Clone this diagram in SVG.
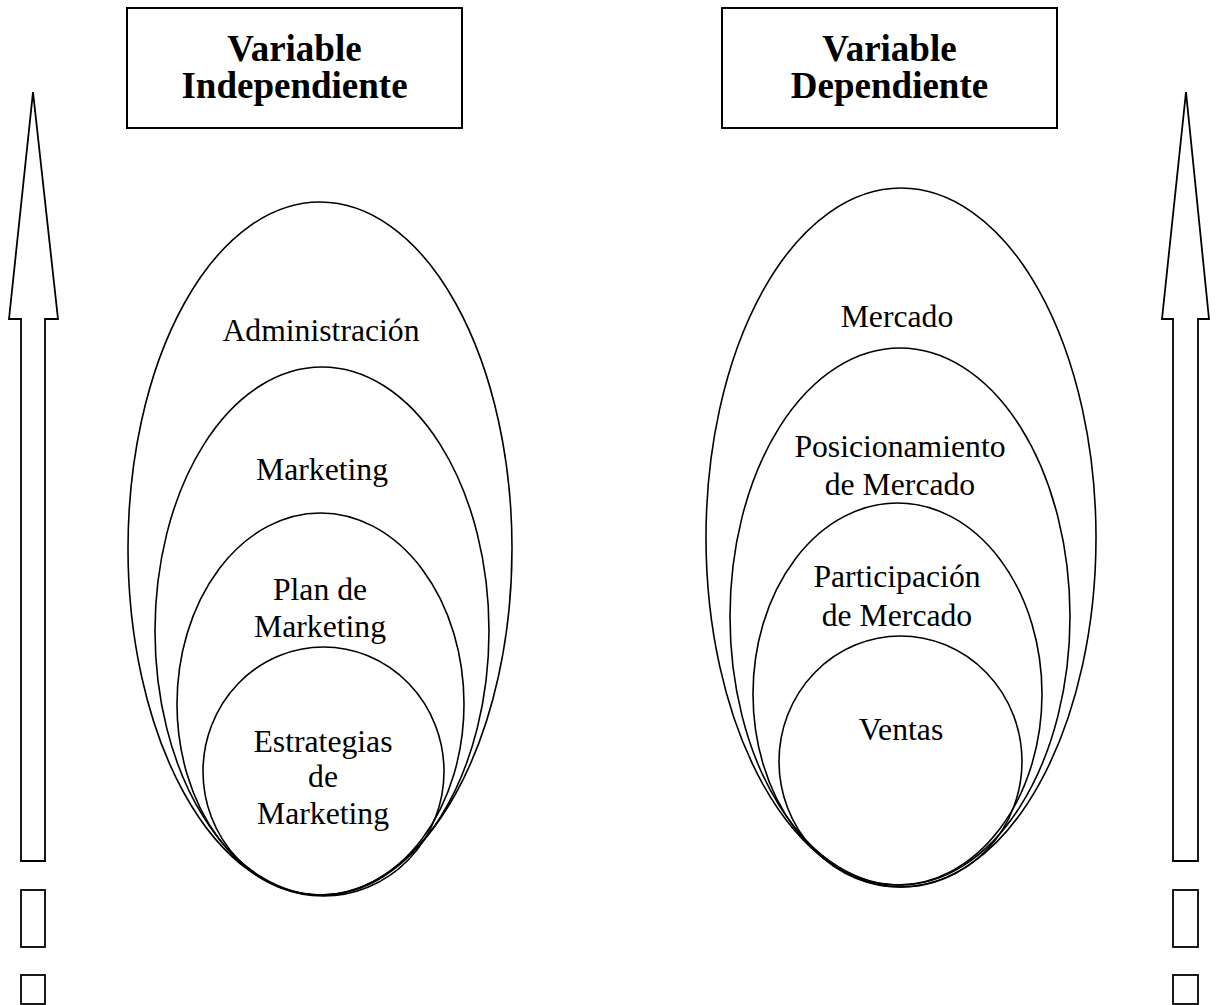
<svg xmlns="http://www.w3.org/2000/svg" width="1219" height="1005" viewBox="0 0 1219 1005">
  <style>
    .frame { fill: #fff; stroke: #000; stroke-width: 2; }
    .ring { fill: none; stroke: #000; stroke-width: 1.6; }
    .arrow { fill: #fff; stroke: #000; stroke-width: 1.8; }
    .title { font-family: "Liberation Serif", "Times New Roman", serif; font-weight: bold; font-size: 37px; text-anchor: middle; fill: #000; }
    .label { font-family: "Liberation Serif", "Times New Roman", serif; font-size: 31.7px; text-anchor: middle; fill: #000; }
  </style>
  <rect width="1219" height="1005" fill="#fff"/>

  <!-- vertical arrows at the page edges -->
  <g id="arrow-left">
    <polygon class="arrow" points="33,92 58,319 45,319 45,861 21,861 21,319 9,319"/>
    <rect class="arrow" x="21" y="890" width="24" height="57"/>
    <rect class="arrow" x="21" y="975" width="24" height="29"/>
  </g>
  <g id="arrow-right">
    <polygon class="arrow" points="1186,92 1209,319 1198,319 1198,861 1173,861 1173,319 1162,319"/>
    <rect class="arrow" x="1173" y="890" width="25" height="57"/>
    <rect class="arrow" x="1173" y="975" width="25" height="29"/>
  </g>

  <!-- headers -->
  <g id="header-independiente">
    <rect class="frame" x="127" y="8" width="335" height="120"/>
    <text class="title" x="294.5" y="61">Variable</text>
    <text class="title" x="294.5" y="98">Independiente</text>
  </g>
  <g id="header-dependiente">
    <rect class="frame" x="722" y="8" width="335" height="120"/>
    <text class="title" x="889.5" y="61">Variable</text>
    <text class="title" x="889.5" y="98">Dependiente</text>
  </g>

  <!-- independent variable: nested ellipses -->
  <g id="administracion">
    <ellipse class="ring" cx="320" cy="548.5" rx="192" ry="346.5"/>
    <text class="label" x="321" y="341">Administración</text>
  </g>
  <g id="marketing">
    <ellipse class="ring" cx="322" cy="631" rx="167" ry="264"/>
    <text class="label" x="322" y="480">Marketing</text>
  </g>
  <g id="plan-marketing">
    <ellipse class="ring" cx="320.5" cy="704" rx="143.5" ry="191"/>
    <text class="label" x="320" y="600">Plan de</text>
    <text class="label" x="320" y="637">Marketing</text>
  </g>
  <g id="estrategias">
    <ellipse class="ring" cx="323.5" cy="771.5" rx="120.5" ry="124.5"/>
    <text class="label" x="323" y="752">Estrategias</text>
    <text class="label" x="323" y="787">de</text>
    <text class="label" x="323" y="824">Marketing</text>
  </g>

  <!-- dependent variable: nested ellipses -->
  <g id="mercado">
    <ellipse class="ring" cx="901" cy="537.5" rx="195" ry="349.5"/>
    <text class="label" x="897" y="327">Mercado</text>
  </g>
  <g id="posicionamiento">
    <ellipse class="ring" cx="900" cy="616.5" rx="170" ry="268.5"/>
    <text class="label" x="900" y="457">Posicionamiento</text>
    <text class="label" x="900" y="495">de Mercado</text>
  </g>
  <g id="participacion">
    <ellipse class="ring" cx="897.5" cy="694" rx="144.5" ry="191"/>
    <text class="label" x="897" y="587">Participación</text>
    <text class="label" x="897" y="626">de Mercado</text>
  </g>
  <g id="ventas">
    <ellipse class="ring" cx="900.5" cy="761.5" rx="121.5" ry="125.5"/>
    <text class="label" x="901" y="740">Ventas</text>
  </g>

  <g id="connectors"></g>
</svg>
